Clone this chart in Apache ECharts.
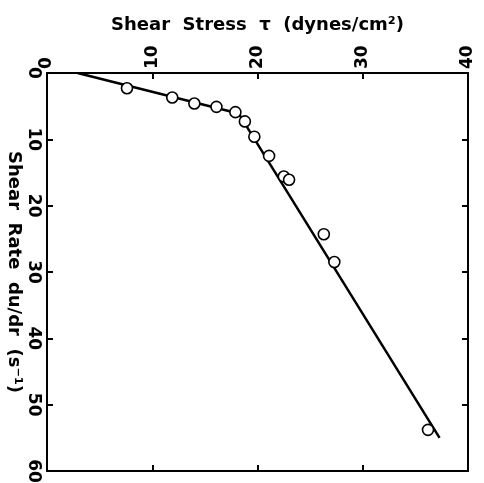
<!DOCTYPE html>
<html>
<head>
  <meta charset="utf-8">
  <title>Shear Stress vs Shear Rate</title>
  <script src="https://cdn.jsdelivr.net/npm/echarts@6/dist/echarts.min.js"></script>
  <style>
    html, body { margin: 0; padding: 0; background: #fff; }
    #chart { width: 484px; height: 483px; }
  </style>
</head>
<body>
  <div id="chart"></div>
  <script type="text/javascript">
    // measured points: shear stress (dynes/cm2) and shear rate (1/s)
    var stressPts = [7.6, 11.9, 14.0, 16.1, 17.9, 18.8, 19.7, 21.1, 22.5, 23.0, 26.3, 27.3, 36.2];
    var ratePts = [2.3, 3.7, 4.6, 5.1, 5.9, 7.3, 9.6, 12.5, 15.6, 16.1, 24.3, 28.5, 53.8];
    // fitted two-segment line
    var fitStress = [2.9, 18.2, 37.3];
    var fitRate = [0, 6.1, 55.0];
    var stressTicks = [0, 10, 20, 30, 40];
    var rateTicks = [0, 10, 20, 30, 40, 50, 60];

    var pts = [];
    for (var i = 0; i < stressPts.length; i++) {
      pts.push([stressPts[i], ratePts[i]]);
    }
    var fit = [];
    for (var j = 0; j < fitStress.length; j++) {
      fit.push([fitStress[j], fitRate[j]]);
    }

    var lblFont = { color: '#000', fontFamily: 'DejaVu Sans', fontWeight: 'bold', fontSize: 17 };
    var nameFont = { color: '#000', fontFamily: 'DejaVu Sans', fontWeight: 'bold', fontSize: 18 };
    var axLine = { show: true, onZero: false, lineStyle: { color: '#000', width: 2 } };
    var axTick = { show: true, inside: true, length: 6, lineStyle: { color: '#000', width: 2 } };

    var myChart = echarts.init(document.getElementById('chart'));
    myChart.setOption({
      backgroundColor: '#fff',
      animation: false,
      grid: { left: 47, right: 16, top: 73, bottom: 12, containLabel: false, outerBoundsMode: 'none' },
      xAxis: [{
        type: 'value',
        position: 'top',
        min: stressTicks[0],
        max: stressTicks[stressTicks.length - 1],
        interval: 10,
        name: 'Shear  Stress  τ  (dynes/cm²)',
        nameLocation: 'middle',
        nameGap: 39,
        nameMoveOverlap: false,
        nameTextStyle: nameFont,
        axisLine: axLine,
        axisTick: axTick,
        axisLabel: Object.assign({ rotate: -90, margin: 4 }, lblFont),
        splitLine: { show: false }
      }, {
        type: 'value',
        position: 'bottom',
        min: 0, max: 40, interval: 10,
        axisLine: axLine,
        axisTick: axTick,
        axisLabel: { show: false },
        splitLine: { show: false }
      }],
      yAxis: [{
        type: 'value',
        position: 'left',
        inverse: true,
        min: rateTicks[0],
        max: rateTicks[rateTicks.length - 1],
        interval: 10,
        name: 'Shear  Rate  du/dr  (s⁻¹)',
        nameLocation: 'middle',
        nameRotate: -90,
        nameGap: 24,
        nameMoveOverlap: false,
        nameTextStyle: nameFont,
        axisLine: axLine,
        axisTick: axTick,
        axisLabel: Object.assign({ rotate: -90, margin: 5 }, lblFont),
        splitLine: { show: false }
      }, {
        type: 'value',
        position: 'right',
        inverse: true,
        min: 0, max: 60, interval: 10,
        axisLine: axLine,
        axisTick: axTick,
        axisLabel: { show: false },
        splitLine: { show: false }
      }],
      series: [{
        type: 'line',
        data: fit,
        symbol: 'none',
        lineStyle: { color: '#000', width: 2.5 },
        z: 2
      }, {
        type: 'scatter',
        data: pts,
        symbol: 'circle',
        symbolSize: 11,
        itemStyle: { color: '#fff', opacity: 1, borderColor: '#000', borderWidth: 1.6 },
        z: 3
      }]
    });
  </script>
</body>
</html>
